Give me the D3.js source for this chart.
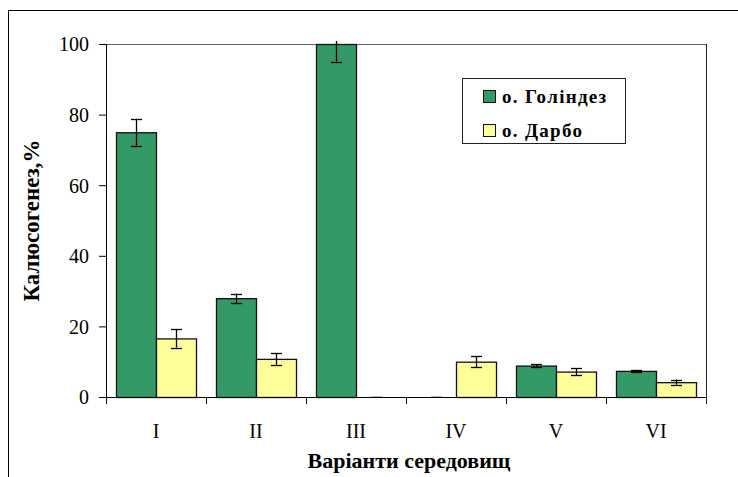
<!DOCTYPE html>
<html>
<head>
<meta charset="utf-8">
<script src="https://cdn.jsdelivr.net/npm/d3@7"></script>
<style>
  body { margin: 0; background: #fff; }
</style>
</head>
<body>
<div id="chart"></div>
<script>
// ===== data ==========================================================
const categories = ['I', 'II', 'III', 'IV', 'V', 'VI'];
const seriesNames = ['о. Голіндез', 'о. Дарбо'];
const golindez    = [75, 28, 100, 0, 8.9, 7.4];
const golindezErr = [3.8, 1.3, 5, 0, 0.4, 0.3];
const darbo       = [16.6, 10.8, 0, 10.0, 7.2, 4.2];
const darboErr    = [2.6, 1.7, 0, 1.6, 1.0, 0.75];
const yTicks = [0, 20, 40, 60, 80, 100];
const colors = ['#339966', '#FFFF99'];
const FONT = 'Liberation Serif';

// ===== layout ========================================================
const svgWidth = 738;
const svgHeight = 477;
const margin = { top: 44, right: 32, bottom: 80, left: 106 };
const width = svgWidth - margin.left - margin.right;
const height = svgHeight - margin.top - margin.bottom;

const svg = d3.select('#chart').append('svg')
    .attr('width', svgWidth)
    .attr('height', svgHeight)
    .attr('font-family', FONT);

// outer chart border (only top and left visible)
svg.append('path')
    .attr('d', `M8.5,${svgHeight} V10.5 H${svgWidth}`)
    .attr('fill', 'none')
    .attr('stroke', '#000')
    .attr('stroke-width', 1);

const g = svg.append('g').attr('transform', `translate(${margin.left},${margin.top})`);

const x0 = d3.scaleBand().domain(categories).range([0, width]).paddingInner(0.2).paddingOuter(0.1);
const x1 = d3.scaleBand().domain([0, 1]).range([0, x0.bandwidth()]);
const y = d3.scaleLinear().domain([0, 100]).range([height, 0]);

// plot area frame (top and right)
g.append('path')
    .attr('d', `M0,0.5 H${width + 0.5}`)
    .attr('fill', 'none')
    .attr('stroke', '#666');
g.append('path')
    .attr('d', `M${width + 0.5},0 V${height + 7}`)
    .attr('fill', 'none')
    .attr('stroke', '#222');

const rows = categories.map((c, i) => ({
    cat: c,
    vals: [
        { s: 0, v: golindez[i], e: golindezErr[i] },
        { s: 1, v: darbo[i], e: darboErr[i] }
    ]
}));

const groups = g.selectAll('.grp').data(rows).enter().append('g')
    .attr('transform', d => `translate(${x0(d.cat)},0)`);

groups.selectAll('rect').data(d => d.vals.filter(v => v.v > 0)).enter().append('rect')
    .attr('x', d => x1(d.s) + 0.5)
    .attr('y', d => y(d.v) + 0.5)
    .attr('width', x1.bandwidth())
    .attr('height', d => height - y(d.v))
    .attr('fill', d => colors[d.s])
    .attr('stroke', '#111')
    .attr('stroke-width', 1.3);

// error bars, clipped just above the plot area
svg.append('clipPath').attr('id', 'clip')
    .append('rect').attr('x', 0).attr('y', -3).attr('width', width).attr('height', height + 3);

const eb = groups.append('g').attr('clip-path', 'url(#clip)')
    .selectAll('g').data(d => d.vals).enter().append('g')
    .attr('stroke', '#000').attr('stroke-width', 1.3);

eb.append('line')
    .attr('x1', d => x1(d.s) + x1.bandwidth() / 2 + 0.5)
    .attr('x2', d => x1(d.s) + x1.bandwidth() / 2 + 0.5)
    .attr('y1', d => y(d.v + d.e))
    .attr('y2', d => y(d.v - d.e));
[1, -1].forEach(sg => {
    eb.append('line')
        .attr('x1', d => x1(d.s) + x1.bandwidth() / 2 - 5)
        .attr('x2', d => x1(d.s) + x1.bandwidth() / 2 + 6)
        .attr('y1', d => Math.round(y(d.v + sg * d.e)) + 0.5)
        .attr('y2', d => Math.round(y(d.v + sg * d.e)) + 0.5);
});

// y axis
const yAxis = g.append('g')
    .call(d3.axisLeft(y).tickValues(yTicks).tickSize(7).tickSizeOuter(0))
    .attr('font-family', FONT);
yAxis.select('.domain').attr('stroke', '#000').attr('d', `M0.5,0 V${height + 7}`);
yAxis.selectAll('text').attr('font-size', 20).attr('fill', '#000').attr('x', -17).attr('dy', '0.34em');
yAxis.selectAll('line').attr('stroke', '#000');

// x axis with ticks between categories
const xAxis = g.append('g').attr('transform', `translate(0,${height})`);
xAxis.append('line')
    .attr('x1', 0).attr('x2', width + 0.5)
    .attr('y1', 0.5).attr('y2', 0.5)
    .attr('stroke', '#000');
xAxis.selectAll('.tk').data(categories).enter().append('line')
    .attr('x1', d => x0(d) - x0.step() * 0.1 + 0.5)
    .attr('x2', d => x0(d) - x0.step() * 0.1 + 0.5)
    .attr('y1', 0).attr('y2', 7)
    .attr('stroke', '#000');
xAxis.selectAll('.lbl').data(categories).enter().append('text')
    .attr('x', d => x0(d) + x0.bandwidth() / 2)
    .attr('y', 41)
    .attr('text-anchor', 'middle')
    .attr('font-size', 20)
    .text(d => d);

// axis titles
svg.append('text')
    .attr('x', margin.left + width / 2 + 3)
    .attr('y', 468)
    .attr('text-anchor', 'middle')
    .attr('font-size', 22)
    .attr('font-weight', 'bold')
    .text('Варіанти середовищ');

svg.append('text')
    .attr('transform', `translate(39,${margin.top + height / 2}) rotate(-90)`)
    .attr('text-anchor', 'middle')
    .attr('font-size', 23)
    .attr('font-weight', 'bold')
    .text('Калюсогенез,%');

// legend
const legend = svg.append('g').attr('transform', 'translate(462,78)');
legend.append('rect')
    .attr('x', 0.5).attr('y', 0.5)
    .attr('width', 163).attr('height', 65)
    .attr('fill', '#fff')
    .attr('stroke', '#222');
seriesNames.forEach((name, i) => {
    legend.append('rect')
        .attr('x', 21.5).attr('y', 12.5 + i * 34)
        .attr('width', 12).attr('height', 12)
        .attr('fill', colors[i])
        .attr('stroke', '#111');
    legend.append('text')
        .attr('x', 40).attr('y', 25 + i * 34)
        .attr('font-size', 19)
        .attr('font-weight', 'bold')
        .attr('letter-spacing', 1.3)
        .text(name);
});
</script>
</body>
</html>
